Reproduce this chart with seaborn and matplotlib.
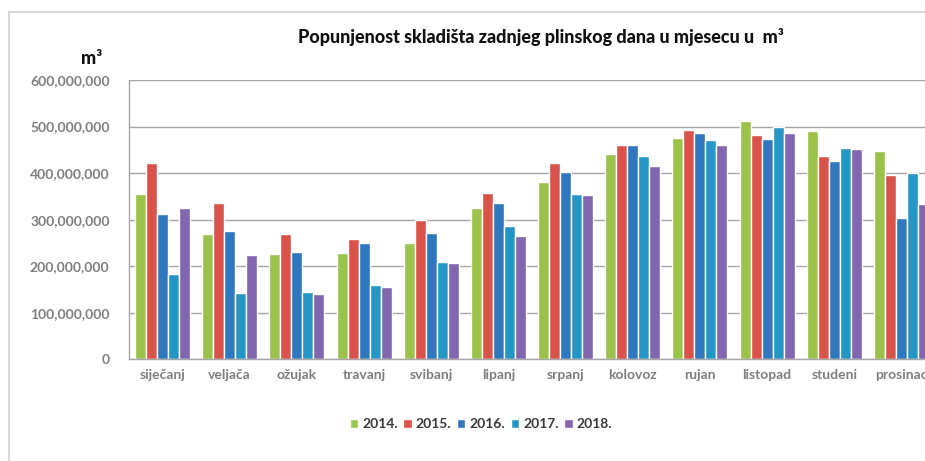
import numpy as np
import pandas as pd
import matplotlib
matplotlib.use("Agg")
import matplotlib.pyplot as plt
from matplotlib.patches import Rectangle
from matplotlib.ticker import FuncFormatter
import seaborn as sns

months = ["siječanj", "veljača", "ožujak", "travanj", "svibanj", "lipanj",
          "srpanj", "kolovoz", "rujan", "listopad", "studeni", "prosinac"]
years = ["2014.", "2015.", "2016.", "2017.", "2018."]

v2014 = [355, 269, 227, 229, 249, 324, 380, 440, 476, 512, 491, 448]
v2015 = [421, 335, 269, 258, 299, 357, 421, 461, 493, 482, 437, 395]
v2016 = [312, 275, 231, 249, 272, 335, 402, 460, 487, 473, 425, 304]
v2017 = [183, 143, 145, 159, 208, 287, 355, 437, 471, 499, 453, 401]
v2018 = [326, 223, 141, 156, 206, 264, 353, 415, 460, 486, 452, 334]

colors = ["#9BC24A", "#D9534B", "#2F78C0", "#2696C6", "#8267B0"]

rows = []
for y, vals in zip(years, [v2014, v2015, v2016, v2017, v2018]):
    for m, v in zip(months, vals):
        rows.append({"mjesec": m, "godina": y, "m3": v * 1e6})
df = pd.DataFrame(rows)

sns.set_theme(style="white")
plt.rcParams["font.family"] = ["Lato", "DejaVu Sans"]

W, H = 925, 461
fig = plt.figure(figsize=(W / 100, H / 100), dpi=100)
# outer light border (chart frame)
fig.patches.append(Rectangle((9 / W, -0.1), 1.2, 1 - 12 / H + 0.1, transform=fig.transFigure,
                             fill=False, edgecolor="#d9d9d9", linewidth=1.5))

left, right = 129 / W, 935 / W
bottom, top = 1 - 359.3 / H, 1 - 80 / H
ax = fig.add_axes([left, bottom, right - left, top - bottom])

sns.barplot(data=df, x="mjesec", y="m3", hue="godina", order=months, hue_order=years,
            palette=colors, width=0.82, gap=0, saturation=1, ax=ax, legend=True)

ax.set_ylim(0, 600e6)
ax.set_yticks(np.arange(0, 600e6 + 1, 100e6))
ax.yaxis.set_major_formatter(FuncFormatter(lambda v, p: f"{int(v):,}"))
ax.yaxis.grid(True, color="#a6a6a6", linewidth=1)
ax.set_axisbelow(True)
for s in ["top", "right"]:
    ax.spines[s].set_visible(False)
for s in ["left", "bottom"]:
    ax.spines[s].set_color("#a6a6a6")
    ax.spines[s].set_linewidth(1)
ax.set_xlabel("")
ax.set_ylabel("")
ax.tick_params(axis="y", length=0, pad=14, labelsize=10, labelcolor="#7f7f7f")
ax.tick_params(axis="x", length=0, pad=7, labelsize=10, labelcolor="#7f7f7f")
for lab in ax.get_yticklabels() + ax.get_xticklabels():
    lab.set_fontweight("bold")

fig.text(541 / W, 1 - 37 / H, "Popunjenost skladišta zadnjeg plinskog dana u mjesecu u  m³",
         ha="center", va="center", fontsize=13, fontweight="black", color="#111111")
fig.text(92 / W, 1 - 58 / H, "m³", ha="center", va="center", fontsize=13,
         fontweight="black", color="#111111")

leg = ax.legend(loc="center", bbox_to_anchor=(481 / W, 1 - 424 / H),
                bbox_transform=fig.transFigure, ncol=5, frameon=False,
                handlelength=0.6, handleheight=0.6, handletextpad=0.3, columnspacing=0.4,
                prop={"weight": "bold", "size": 10})
for t in leg.get_texts():
    t.set_color("#3a3a3a")

fig.savefig("out.png", dpi=100)
